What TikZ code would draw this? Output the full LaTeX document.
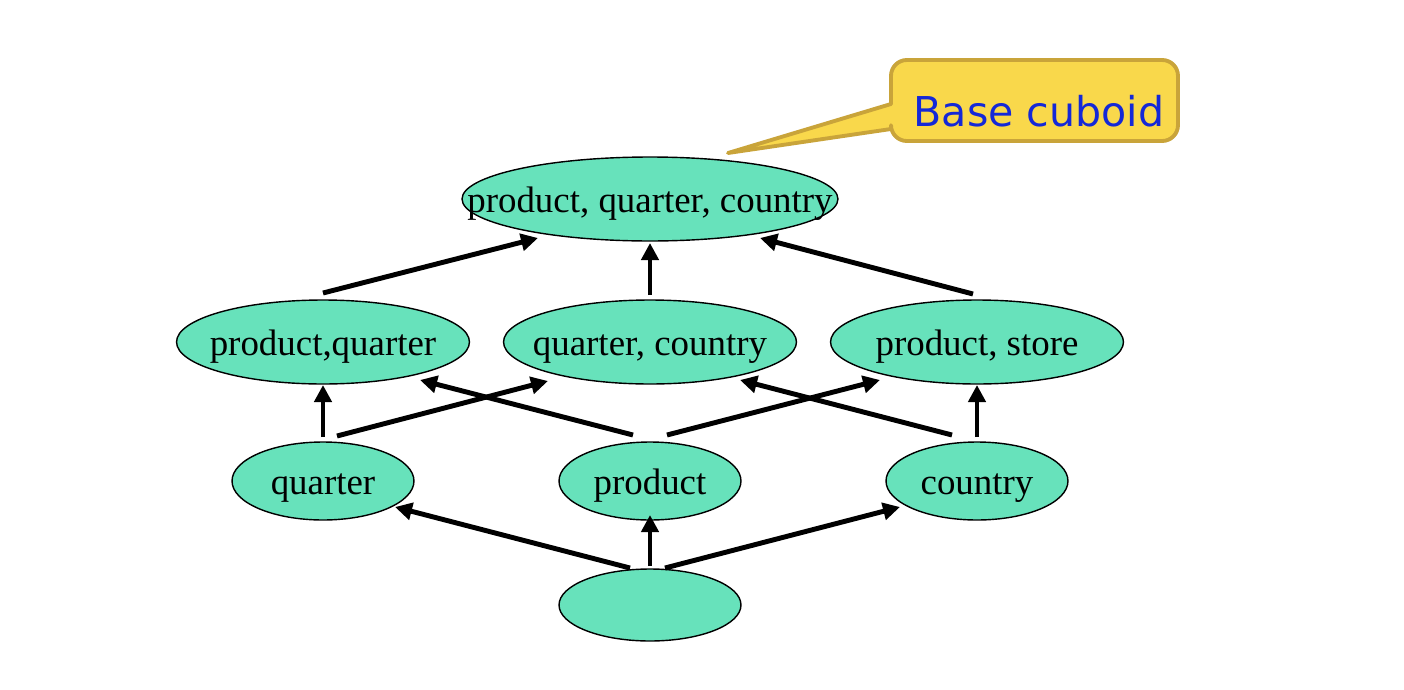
\documentclass[tikz,border=0pt]{standalone}
\usepackage{fontspec}
\setmainfont{Liberation Serif}
\newfontfamily\calloutfont{DejaVu Sans}
\usetikzlibrary{shapes.geometric,arrows.meta,calc}

\definecolor{cellfill}{RGB}{103,226,187}
\definecolor{noteyellow}{RGB}{249,216,75}
\definecolor{notegold}{RGB}{201,164,58}
\definecolor{noteblue}{RGB}{20,40,215}

% zero-size label, baseline set a little below the centre, so the ellipse keeps its own size
\newcommand{\celltext}[1]{\makebox[0pt]{\smash{\raisebox{-0.27cm}{#1}}}}
% connector between two nodes, each end offset from the node centre
\newcommand{\link}[4]{\draw[arr] ($(#1)+(#2)$) -- ($(#3)+(#4)$);}

\begin{document}
\begin{tikzpicture}[x=0.02cm,y=-0.02cm,
  cell/.style={ellipse, draw=black, line width=0.8pt, fill=cellfill, inner sep=0pt,
    font=\fontsize{21}{25}\selectfont},
  bigcell/.style={cell, minimum width=7.52cm, minimum height=1.68cm},
  midcell/.style={cell, minimum width=5.86cm, minimum height=1.68cm},
  smallcell/.style={cell, minimum width=3.64cm, minimum height=1.56cm},
  arr/.style={line width=2.8pt, -{Triangle[length=0.34cm,width=0.34cm]}},
  note/.style={fill=noteyellow, draw=notegold, line width=2.2pt, line join=round},
]
\useasboundingbox (0,0) rectangle (1404,690);

% lattice of cuboids
\node[bigcell]   (T)  at (650,199) {\celltext{product, quarter, country}};
\node[midcell]   (PQ) at (323,342) {\celltext{product,quarter}};
\node[midcell]   (QC) at (650,342) {\celltext{quarter, country}};
\node[midcell]   (PS) at (977,342) {\celltext{product, store}};
\node[smallcell] (Q)  at (323,481) {\celltext{quarter}};
\node[smallcell] (P)  at (650,481) {\celltext{product}};
\node[smallcell] (C)  at (977,481) {\celltext{country}};
\node[smallcell, minimum height=1.44cm] (B) at (650,605) {};

% edges of the lattice
\link{PQ}{0,-49}{T}{-112,39}
\link{QC}{0,-47}{T}{0,44}
\link{PS}{-4,-48}{T}{110,39}

\link{Q}{0,-44}{PQ}{0,43}
\link{Q}{14,-45}{QC}{-102,39}
\link{P}{-17,-46}{PQ}{97,38}
\link{P}{17,-46}{PS}{-97,38}
\link{C}{-25,-46}{QC}{90,38}
\link{C}{0,-44}{PS}{0,43}

\link{B}{-20,-37}{Q}{72,26}
\link{B}{0,-39}{P}{0,34}
\link{B}{15,-37}{C}{-77,26}

% callout
\coordinate (tip) at (728,153);
\draw[note] (891,104) [rounded corners=9] -- (891,60) -- (1178,60) -- (1178,141) -- (891,141)
  [sharp corners] -- (891,129) -- (tip) -- cycle;
\node[anchor=base, text=noteblue, inner sep=0pt, font=\calloutfont\fontsize{23.4}{28}\selectfont]
  (cb) at (1039,126) {Base cuboid};
\end{tikzpicture}
\end{document}
